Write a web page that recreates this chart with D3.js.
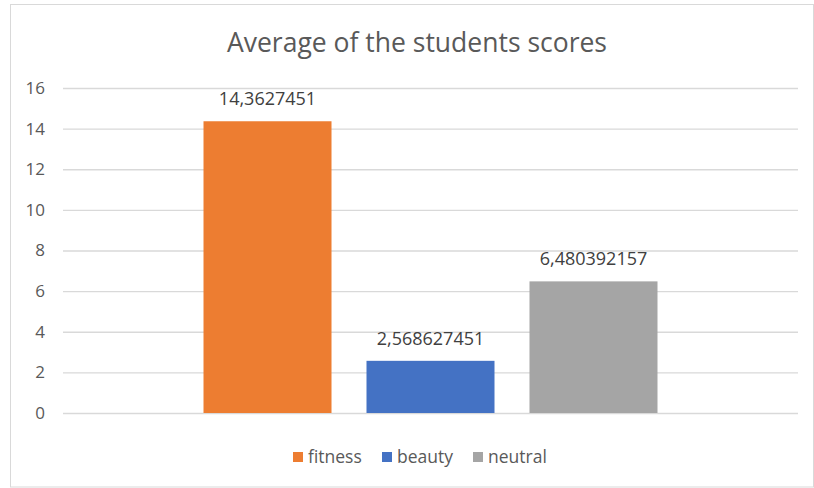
<!DOCTYPE html>
<html>
<head>
<meta charset="utf-8">
<script src="https://cdn.jsdelivr.net/npm/d3@7"></script>
<style>
  html, body { margin: 0; padding: 0; background: #fff; }
  svg { display: block; }
  text { font-family: "Open Sans", "Noto Sans", sans-serif; }
</style>
</head>
<body>
<svg id="chart" width="814" height="488"></svg>
<script>
// Chart data
const title = "Average of the students scores";
const series = ["fitness", "beauty", "neutral"];
const values = [14.3627451, 2.568627451, 6.480392157];
const labels = ["14,3627451", "2,568627451", "6,480392157"];
const colors = ["#ED7D31", "#4472C4", "#A5A5A5"];
const yTicks = [0, 2, 4, 6, 8, 10, 12, 14, 16];

const svg = d3.select("#chart");
const W = 814, H = 488;
const plot = { left: 63, right: 798, top: 88, bottom: 413 };
const fontFamily = '"Open Sans", "Noto Sans", sans-serif';

// Chart frame
svg.append("rect")
  .attr("x", 10.5).attr("y", 4.5)
  .attr("width", W - 11).attr("height", H - 5.5)
  .attr("fill", "#fff").attr("stroke", "#d9d9d9").attr("stroke-width", 1);

// Title
svg.append("text")
  .attr("x", 417).attr("y", 52)
  .attr("text-anchor", "middle")
  .attr("font-size", 26.5)
  .attr("fill", "#595959")
  .text(title);

const y = d3.scaleLinear().domain([0, 16]).range([plot.bottom, plot.top]);
const x = d3.scaleBand().domain(series)
  .range([plot.left, plot.right])
  .paddingInner(0.2147).paddingOuter(0.862);

// Gridlines and value axis labels
const yAxis = d3.axisLeft(y).tickValues(yTicks)
  .tickSize(-(plot.right - plot.left)).tickPadding(18)
  .tickFormat(d3.format("d"));
const gy = svg.append("g")
  .attr("transform", `translate(${plot.left},0)`)
  .call(yAxis);
gy.select(".domain").remove();
gy.selectAll(".tick line").attr("stroke", "#d9d9d9").attr("stroke-width", 1.3);
gy.selectAll(".tick text")
  .attr("fill", "#595959")
  .attr("font-size", 17)
  .style("font-family", fontFamily);

// Bars
svg.append("g").selectAll("rect")
  .data(series)
  .join("rect")
  .attr("x", d => x(d))
  .attr("y", (d, i) => y(values[i]))
  .attr("width", x.bandwidth())
  .attr("height", (d, i) => y(0) - y(values[i]))
  .attr("fill", (d, i) => colors[i]);

// Data labels
svg.append("g").selectAll("text")
  .data(series)
  .join("text")
  .attr("x", d => x(d) + x.bandwidth() / 2)
  .attr("y", (d, i) => y(values[i]) - 16)
  .attr("text-anchor", "middle")
  .attr("font-size", 18)
  .attr("fill", "#404040")
  .text((d, i) => labels[i]);

// Legend
const legendX = [293, 382, 473];
const lg = svg.append("g").selectAll("g")
  .data(series)
  .join("g")
  .attr("transform", (d, i) => `translate(${legendX[i]},452)`);
lg.append("rect")
  .attr("width", 10).attr("height", 10)
  .attr("fill", (d, i) => colors[i]);
lg.append("text")
  .attr("x", 15).attr("y", 11)
  .attr("font-size", 17.5)
  .attr("fill", "#595959")
  .text(d => d);
</script>
</body>
</html>
